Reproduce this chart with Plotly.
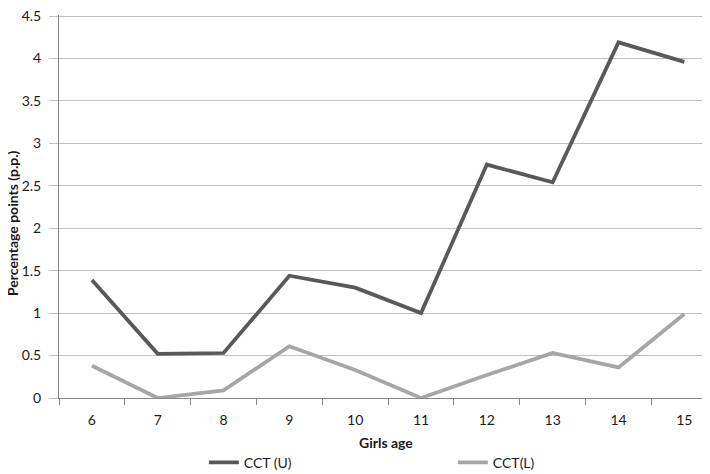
import plotly.graph_objects as go

ages = ["6", "7", "8", "9", "10", "11", "12", "13", "14", "15"]
cct_u = [1.39, 0.52, 0.53, 1.44, 1.30, 1.00, 2.75, 2.54, 4.19, 3.96]
cct_l = [0.38, 0.00, 0.09, 0.61, 0.33, 0.00, 0.27, 0.53, 0.36, 0.99]
y_ticks = [0, 0.5, 1, 1.5, 2, 2.5, 3, 3.5, 4, 4.5]
y_ticktext = ["0", "0.5", "1", "1.5", "2", "2.5", "3", "3.5", "4", "4.5"]

FONT = "Lato, 'Open Sans', sans-serif"

# the page has an 8px body margin, so the figure is drawn 8px smaller
fig = go.Figure()
fig.add_trace(go.Scatter(x=ages, y=cct_u, mode="lines", name="CCT (U)",
                         line=dict(color="#595959", width=3.75)))
fig.add_trace(go.Scatter(x=ages, y=cct_l, mode="lines", name="CCT(L)",
                         line=dict(color="#a6a6a6", width=3.75)))

fig.update_layout(
    width=702, height=466,
    margin=dict(l=51, r=0, t=7, b=76, autoexpand=False),
    paper_bgcolor="white", plot_bgcolor="white",
    font=dict(family=FONT, size=14, color="#1a1a1a"),
    showlegend=True,
    legend=dict(orientation="h", xref="container", yref="container",
                x=0.279, xanchor="left", y=0.024, yanchor="middle",
                font=dict(size=14, color="#1a1a1a"),
                entrywidth=204, entrywidthmode="pixels",
                itemwidth=30, bgcolor="rgba(0,0,0,0)"),
    xaxis=dict(type="category", range=[-0.5, 9.39], tickson="boundaries",
               ticks="outside", ticklen=6, tickcolor="#868686",
               showline=True, linecolor="#868686", linewidth=1,
               showgrid=False, zeroline=False, automargin=False,
               tickfont=dict(size=14), ticklabelstandoff=9),
    yaxis=dict(range=[0, 4.512], tickvals=y_ticks, ticktext=y_ticktext,
               ticks="outside", ticklen=9, tickcolor="#bfbfbf",
               showline=True, linecolor="#868686", linewidth=1,
               showgrid=True, gridcolor="#bfbfbf", gridwidth=1, automargin=False,
               zeroline=False, tickfont=dict(size=14), ticklabelstandoff=5,
               ticklabeloverflow="allow"),
    annotations=[
        dict(text="<b>Girls age</b>", xref="paper", yref="paper",
             x=0.503, y=-0.115, xanchor="center", yanchor="middle",
             showarrow=False, font=dict(size=14, color="#1a1a1a")),
        dict(text="<b>Percentage points (p.p.)</b>", xref="paper", yref="paper",
             x=-0.0715, y=0.458, xanchor="center", yanchor="middle", textangle=-90,
             showarrow=False, font=dict(size=14, color="#1a1a1a")),
    ],
)

fig.write_html("out.html")
